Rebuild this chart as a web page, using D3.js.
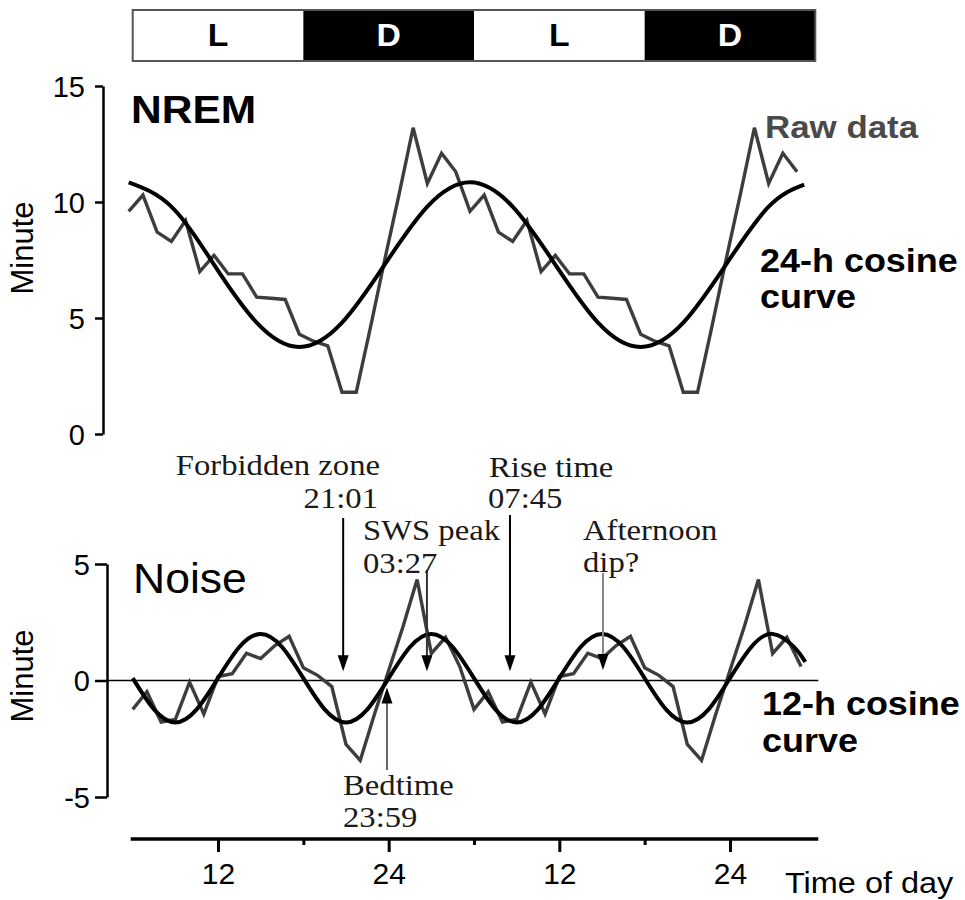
<!DOCTYPE html>
<html><head><meta charset="utf-8">
<script src="https://cdn.jsdelivr.net/npm/d3@7"></script>
<style>body{margin:0;background:#fff}svg{display:block}</style>
</head><body><svg id="c" width="965" height="900"></svg>
<script>
// ---------- data ----------
// hourly bins of one 24-h cycle (data are double-plotted: second copy at +24 h)
const hours = [6,7,8,9,10,11,12,13,14,15,16,17,18,19,20,21,22,23,24,25,26,27,28,29];
const nremRaw = [9.6,10.3,8.7,8.3,9.2,7.0,7.7,6.9,6.9,5.9,5.85,5.8,4.3,4.0,3.8,1.8,1.8,4.6,7.5,10.3,13.2,10.8,12.1,11.3];
const noiseRaw = [-1.24,-0.48,-1.78,-1.67,-0.07,-1.44,0.17,0.29,1.17,0.94,1.5,1.9,0.55,0.22,-0.26,-2.74,-3.43,-1.45,0.43,2.3,4.33,1.16,1.85,0.6];
// 24-h cosine curve, values read every 3 h
const cos24Hours = [6,9,12,15,18,21,24,27,30,33,36,39,42,45,48,51,53.5];
const cos24Values = [10.85,9.8,7.3,4.8,3.75,4.8,7.3,9.8,10.85,9.8,7.3,4.8,3.75,4.8,7.3,9.8,10.75];
// 12-h cosine curve, values read every 1.5 h
const cos12Hours = [6,7.5,9,10.5,12,13.5,15,16.5,18,19.5,21,22.5,24,25.5,27,28.5,30,31.5,33,34.5,36,37.5,39,40.5,42,43.5,45,46.5,48,49.5,51,52.5,53.3];
const cos12Values = [0.1,-1.24,-1.8,-1.24,0.1,1.44,2.0,1.44,0.1,-1.24,-1.8,-1.24,0.1,1.44,2.0,1.44,0.1,-1.24,-1.8,-1.24,0.1,1.44,2.0,1.44,0.1,-1.24,-1.8,-1.24,0.1,1.44,2.0,1.44,0.8];
// light/dark bar
const ldLabels = ["L","D","L","D"];
const ldStart = [6,18,30,42];
const ldEnd = [18,30,42,54];
// axes
const xTickHours = [12,18,24,30,36,42,48];
const xTickLabels = ["12","","24","","12","","24"];
const nremTicks = [0,5,10,15];
const noiseTicks = [-5,0,5];
const noiseTickLabels = ["-5","0","5"];
// annotation arrows (hour of arrow, direction)
const annHours = [20.8,26.69,32.53,39.07,23.88];
const annDir = ["down","down","down","down","up"];

// ---------- layout ----------
const svg = d3.select("#c");
const SANS = "'Liberation Sans', Arial, Helvetica, sans-serif";
const SERIF = "'Liberation Serif', 'Times New Roman', serif";
const SX = 1.09;

const x = d3.scaleLinear().domain([6,54]).range([132.7,815.3]);   // bottom / noise panel
const xN = d3.scaleLinear().domain([6,54]).range([128.7,811.3]);  // NREM panel (slightly offset)
const yN = d3.scaleLinear().domain([0,15]).range([434,86]);
const yZ = d3.scaleLinear().domain([-5,5]).range([797,564]);

function txt(g, px, py, s, o) {
  return g.append("text")
    .attr("transform", `translate(${px},${py}) scale(${o.sx||SX},1)`)
    .attr("text-anchor", o.anchor || "start")
    .style("font-family", o.family || SANS)
    .style("font-size", o.size + "px")
    .style("font-weight", o.weight || "normal")
    .style("fill", o.fill || "#000")
    .text(s);
}

// ---------- LD bar ----------
const ld = svg.append("g");
ldLabels.forEach((lab, i) => {
  ld.append("rect").attr("x", x(ldStart[i])).attr("y", 10)
    .attr("width", x(ldEnd[i]) - x(ldStart[i])).attr("height", 51)
    .attr("fill", lab === "L" ? "#fff" : "#000");
  txt(ld, (x(ldStart[i]) + x(ldEnd[i])) / 2, 46, lab,
      {size: 31, weight: "bold", anchor: "middle", fill: lab === "L" ? "#000" : "#fff"});
});
ld.append("rect").attr("x", x(6)).attr("y", 10).attr("width", x(54) - x(6)).attr("height", 51)
  .attr("fill", "none").attr("stroke", "#555").attr("stroke-width", 2);

// ---------- axes ----------
function styleY(g, size) {
  g.select(".domain").attr("stroke", "#000").attr("stroke-width", 2.5);
  g.selectAll(".tick line").attr("stroke", "#000").attr("stroke-width", 2.5);
  g.selectAll(".tick text").style("font-family", SANS).style("font-size", size + "px")
    .attr("fill", "#000").attr("dy", "0.36em");
}
const axN = svg.append("g").attr("transform", "translate(103,0)")
  .call(d3.axisLeft(yN).tickValues(nremTicks).tickSize(8).tickSizeOuter(0).tickPadding(10).tickFormat(d => String(d)));
styleY(axN, 29);
const axZ = svg.append("g").attr("transform", "translate(107,0)")
  .call(d3.axisLeft(yZ).tickValues(noiseTicks).tickSize(12).tickSizeOuter(0).tickPadding(5)
    .tickFormat((d, i) => noiseTickLabels[i]));
styleY(axZ, 29);

const axX = svg.append("g").attr("transform", "translate(0,839)")
  .call(d3.axisBottom(x).tickValues(xTickHours).tickSizeOuter(0).tickFormat((d, i) => xTickLabels[i]));
axX.select(".domain").attr("stroke", "#000").attr("stroke-width", 3.5)
  .attr("d", `M${x(6)-2},0H${x(54)+3}`);
axX.selectAll(".tick line").attr("stroke", "#000").attr("stroke-width", 3)
  .attr("y2", (d, i) => xTickLabels[i] ? 13 : 6);
axX.selectAll(".tick text").style("font-family", SANS).style("font-size", "30px")
  .attr("fill", "#000").attr("y", 45).attr("dy", 0);

// axis titles
svg.append("text").attr("transform", "translate(33,248) rotate(-90)").attr("text-anchor", "middle")
  .style("font-family", SANS).style("font-size", "31px").text("Minute");
svg.append("text").attr("transform", "translate(33,676) rotate(-90)").attr("text-anchor", "middle")
  .style("font-family", SANS).style("font-size", "31px").text("Minute");
txt(svg, 785, 893, "Time of day", {size: 29, sx: 1.12});

// zero line in noise panel
svg.append("line").attr("x1", 107).attr("x2", x(54) + 3).attr("y1", yZ(0)).attr("y2", yZ(0))
  .attr("stroke", "#000").attr("stroke-width", 1.6);

// ---------- series ----------
const doubled = arr => hours.map((h, i) => ({h: h, v: arr[i]}))
  .concat(hours.map((h, i) => ({h: h + 24, v: arr[i]})));
const pairs = (hs, vs) => hs.map((h, i) => ({h: h, v: vs[i]}));

const lineNraw = d3.line().x(d => xN(d.h)).y(d => yN(d.v));
const lineNcos = d3.line().x(d => xN(d.h)).y(d => yN(d.v)).curve(d3.curveNatural);
const lineZraw = d3.line().x(d => x(d.h)).y(d => yZ(d.v));
const lineZcos = d3.line().x(d => x(d.h)).y(d => yZ(d.v)).curve(d3.curveNatural);

svg.append("path").attr("d", lineNraw(doubled(nremRaw))).attr("fill", "none")
  .attr("stroke", "#3d3d3d").attr("stroke-width", 3.4).attr("stroke-linejoin", "miter");
svg.append("path").attr("d", lineNcos(pairs(cos24Hours, cos24Values))).attr("fill", "none")
  .attr("stroke", "#000").attr("stroke-width", 4);

svg.append("path").attr("d", lineZraw(doubled(noiseRaw))).attr("fill", "none")
  .attr("stroke", "#3d3d3d").attr("stroke-width", 3.4).attr("stroke-linejoin", "miter");
svg.append("path").attr("d", lineZcos(pairs(cos12Hours, cos12Values))).attr("fill", "none")
  .attr("stroke", "#000").attr("stroke-width", 4);

// ---------- panel labels ----------
txt(svg, 131, 123, "NREM", {size: 39, weight: "bold"});
txt(svg, 765, 138, "Raw data", {size: 32, weight: "bold", fill: "#4a4a4a"});
txt(svg, 760, 272, "24-h cosine", {size: 33, weight: "bold"});
txt(svg, 760, 308, "curve", {size: 33, weight: "bold"});
txt(svg, 133, 593, "Noise", {size: 42, sx: 1.06});
txt(svg, 762, 715, "12-h cosine", {size: 33, weight: "bold"});
txt(svg, 762, 752, "curve", {size: 33, weight: "bold"});

// ---------- annotations ----------
const annTail = [518, 570, 515, 573, 770];
const annTipVal = [0.4, 0.4, 0.4, 0.45, -0.3];
const annLineColor = ["#000", "#333", "#000", "#888", "#666"];
annHours.forEach((h, i) => {
  const ax = x(h), tail = annTail[i], tip = yZ(annTipVal[i]);
  const dir = annDir[i] === "down" ? 1 : -1;
  svg.append("line").attr("x1", ax).attr("x2", ax).attr("y1", tail).attr("y2", tip - dir * 10)
    .attr("stroke", annLineColor[i]).attr("stroke-width", 2);
  svg.append("path")
    .attr("d", `M${ax},${tip} L${ax-5.5},${tip - dir*16} L${ax+5.5},${tip - dir*16} Z`)
    .attr("fill", "#000");
});
const serif = (px, py, s, anchor) => txt(svg, px, py, s, {size: 30, family: SERIF, anchor: anchor, fill: "#1a1a1a"});
serif(380, 475, "Forbidden zone", "end");
serif(378, 508, "21:01", "end");
serif(363, 540, "SWS peak", "start");
serif(363, 573, "03:27", "start");
serif(489, 477, "Rise time", "start");
serif(488, 508, "07:45", "start");
serif(583, 540, "Afternoon", "start");
serif(583, 572, "dip?", "start");
serif(343, 795, "Bedtime", "start");
serif(343, 827, "23:59", "start");
</script>
</body></html>
